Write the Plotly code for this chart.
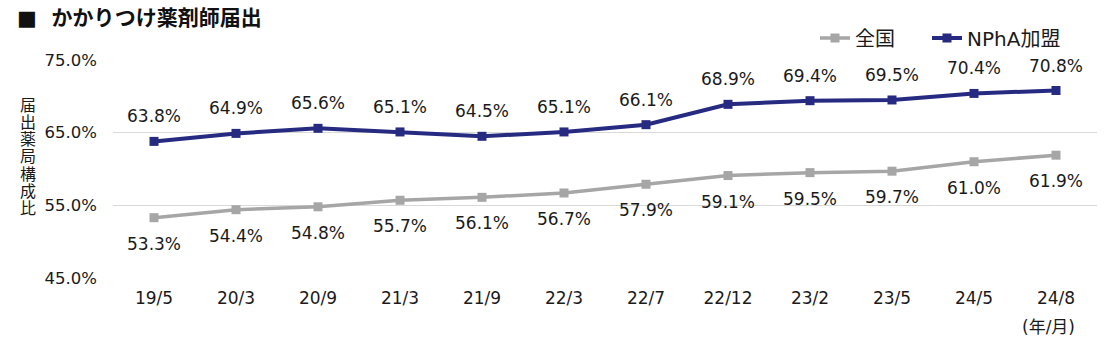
import plotly.graph_objects as go

categories = ["19/5", "20/3", "20/9", "21/3", "21/9", "22/3", "22/7", "22/12", "23/2", "23/5", "24/5", "24/8"]
national = [53.3, 54.4, 54.8, 55.7, 56.1, 56.7, 57.9, 59.1, 59.5, 59.7, 61.0, 61.9]
npha = [63.8, 64.9, 65.6, 65.1, 64.5, 65.1, 66.1, 68.9, 69.4, 69.5, 70.4, 70.8]
y_ticks = [45, 55, 65, 75]
y_title_chars = ["届", "出", "薬", "局", "構", "成", "比"]

FONT = "DejaVu Sans, Noto Sans CJK JP, sans-serif"
GRAY = "#A6A6A6"
NAVY = "#262A80"
TXT = "#1a1a1a"

# plot area in pixels
L, T, W, H = 113, 60, 984, 218

def px(xp):
    return (xp - L) / W

def py(yp):
    return (T + H - yp) / H

fig = go.Figure()
fig.add_trace(go.Scatter(
    x=categories, y=national, name="全国", mode="lines+markers", legend="legend",
    line=dict(color=GRAY, width=3.5), marker=dict(symbol="square", size=9, color=GRAY),
))
fig.add_trace(go.Scatter(
    x=categories, y=npha, name="NPhA加盟", mode="lines+markers", legend="legend2",
    line=dict(color=NAVY, width=4), marker=dict(symbol="square", size=9, color=NAVY),
))

for c, v in zip(categories, national):
    fig.add_annotation(x=c, y=v, text=f"{v:.1f}%", showarrow=False, yshift=-26,
                       font=dict(size=17, family=FONT, color=TXT))
for c, v in zip(categories, npha):
    fig.add_annotation(x=c, y=v, text=f"{v:.1f}%", showarrow=False, yshift=25,
                       font=dict(size=17, family=FONT, color=TXT))

legend_common = dict(orientation="h", xanchor="left", y=py(38), yanchor="middle",
                     font=dict(size=20, family=FONT, color=TXT), bgcolor="rgba(0,0,0,0)",
                     itemwidth=30)

fig.update_layout(
    width=1120, height=352,
    margin=dict(l=L, r=1120 - L - W, t=T, b=352 - T - H),
    paper_bgcolor="white", plot_bgcolor="white",
    font=dict(family=FONT, size=17, color=TXT),
    showlegend=True,
    legend=dict(x=px(815), **legend_common),
    legend2=dict(x=px(927), **legend_common),
    xaxis=dict(type="category", range=[-0.5, 11.5], showgrid=False, showline=False, ticks="",
               tickfont=dict(size=17), ticklabelstandoff=8),
    yaxis=dict(range=[45, 75], tickvals=y_ticks, ticktext=[f"{v:.1f}%" for v in y_ticks],
               showgrid=True, gridcolor="#D9D9D9", gridwidth=1, zeroline=False,
               showline=False, ticks="", tickfont=dict(size=16.5), ticklabelstandoff=15),
)

fig.add_annotation(text="<b>■  かかりつけ薬剤師届出</b>", xref="paper", yref="paper",
                   x=px(15), xanchor="left", y=py(18), yanchor="middle", showarrow=False,
                   font=dict(size=21, family=FONT, color="#111"))

for i, ch in enumerate(y_title_chars):
    fig.add_annotation(text=ch, xref="paper", yref="paper",
                       x=px(28), xanchor="center", y=py(105 + i * 17.3), yanchor="middle",
                       showarrow=False, font=dict(size=16, family=FONT, color=TXT))

fig.add_annotation(text="(年/月)", xref="paper", yref="paper",
                   x=px(1077), xanchor="right", y=py(327), yanchor="middle",
                   showarrow=False, font=dict(size=17, family=FONT, color=TXT))

fig.write_html("out.html")
